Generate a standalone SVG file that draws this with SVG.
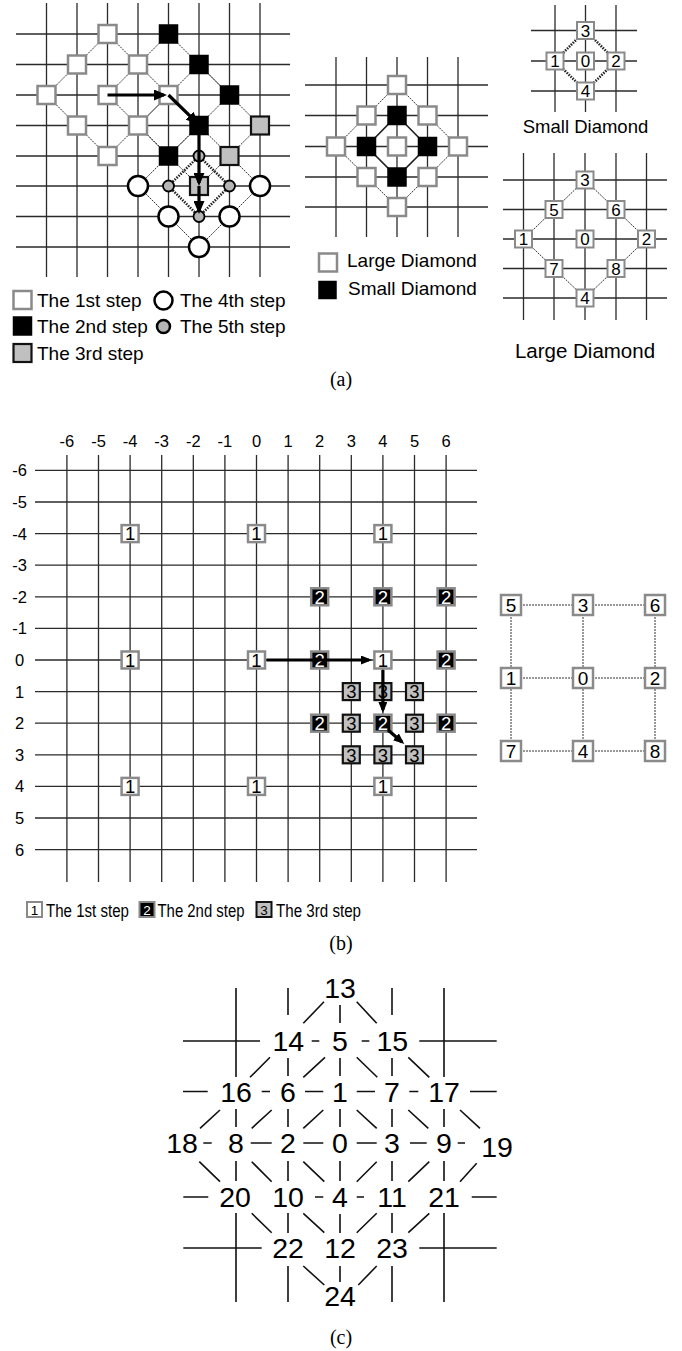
<svg xmlns="http://www.w3.org/2000/svg" width="682" height="1351" viewBox="0 0 682 1351">
<style>
.gl{stroke:#2b2b2b;stroke-width:1.3;fill:none}
.dt{stroke:#333;stroke-width:1;stroke-dasharray:2 1;fill:none}
.dk{stroke:#222;stroke-width:2.6;stroke-dasharray:1.5 1.2;fill:none}
.sd{stroke:#222;stroke-width:1.6;fill:none}
.s1{fill:#fff;stroke:#8a8a8a;stroke-width:2.5}
.s2{fill:#000;stroke:#000;stroke-width:1.5}
.s2b{fill:#000;stroke:#8a8a8a;stroke-width:2.5}
.s3{fill:#c0c0c0;stroke:#111;stroke-width:2.2}
.c4{fill:#fff;stroke:#000;stroke-width:2.5}
.c5{fill:#b5b5b5;stroke:#000;stroke-width:1.8}
.ar{stroke:#000;stroke-width:3.2;fill:none}
.cl{stroke:#111;stroke-width:1.6;fill:none}
text{font-family:"Liberation Sans",Arial,sans-serif;fill:#000}
.cap{font-family:"Liberation Serif","Times New Roman",serif;font-size:20px;text-anchor:middle}
.n{font-size:17px;text-anchor:middle}
.nb{font-size:18.5px;text-anchor:middle}
.nw{font-size:18.5px;text-anchor:middle;fill:#fff}
.nr{font-size:19px;text-anchor:middle}
.lg{font-size:19px}
.lb{font-size:16.5px;text-anchor:middle}
.cn{font-size:28.5px;text-anchor:middle}
.ls{font-size:13.5px;text-anchor:middle}
</style>
<defs>
<marker id="ahA" viewBox="0 0 13 11" refX="10" refY="5.5" markerWidth="13" markerHeight="11" markerUnits="userSpaceOnUse" orient="auto"><path d="M0,0 L13,5.5 L0,11 z" fill="#000"/></marker>
<marker id="ahB" viewBox="0 0 11 9" refX="8" refY="4.5" markerWidth="11" markerHeight="9" markerUnits="userSpaceOnUse" orient="auto"><path d="M0,0 L11,4.5 L0,9 z" fill="#000"/></marker>
</defs>
<rect width="682" height="1351" fill="#fff"/>

<!-- ===== (a) left grid ===== -->
<g id="a-grid" class="gl">
<path d="M16,34H290M16,64.5H290M16,95H290M16,125.5H290M16,156H290M16,186H290M16,216.5H290M16,247H290"/>
<path d="M46.5,3V277M77,3V277M107.5,3V277M138,3V277M168.5,3V277M199,3V277M229.5,3V277M260,3V277"/>
</g>
<g id="a-connectors">
<path class="dt" d="M107.5,34 L168.5,95 L107.5,156 L46.5,95 Z"/>
<path class="dt" d="M168.5,34 L229.5,95 L168.5,156 L107.5,95 Z"/>
<path class="dt" d="M199,64.5 L260,125.5 L199,186 L138,125.5 Z"/>
<path class="dt" d="M199,125.5 L260,186 L199,247 L138,186 Z"/>
<path class="dk" d="M199,156 L229.5,186 L199,216.5 L168.5,186 Z"/>
</g>
<g id="a-step1">
<rect class="s1" x="98.5" y="25" width="18" height="18"/>
<rect class="s1" x="68" y="55.5" width="18" height="18"/>
<rect class="s1" x="129" y="55.5" width="18" height="18"/>
<rect class="s1" x="37.5" y="86" width="18" height="18"/>
<rect class="s1" x="98.5" y="86" width="18" height="18"/>
<rect class="s1" x="159.5" y="86" width="18" height="18"/>
<rect class="s1" x="68" y="116.5" width="18" height="18"/>
<rect class="s1" x="129" y="116.5" width="18" height="18"/>
<rect class="s1" x="98.5" y="147" width="18" height="18"/>
</g>
<g id="a-step2">
<rect class="s2" x="159.5" y="25" width="18" height="18"/>
<rect class="s2" x="190" y="55.5" width="18" height="18"/>
<rect class="s2" x="220.5" y="86" width="18" height="18"/>
<rect class="s2" x="190" y="116.5" width="18" height="18"/>
<rect class="s2" x="159.5" y="147" width="18" height="18"/>
</g>
<g id="a-step3">
<rect class="s3" x="251" y="116.5" width="18" height="18"/>
<rect class="s3" x="220.5" y="147" width="18" height="18"/>
<rect class="s3" x="190" y="177" width="18" height="18"/>
</g>
<g id="a-step4">
<circle class="c4" cx="138" cy="186" r="10"/>
<circle class="c4" cx="260" cy="186" r="10"/>
<circle class="c4" cx="168.5" cy="216.5" r="10"/>
<circle class="c4" cx="229.5" cy="216.5" r="10"/>
<circle class="c4" cx="199" cy="247" r="10"/>
</g>
<g id="a-step5">
<circle class="c5" cx="199" cy="156" r="5.5"/>
<circle class="c5" cx="168.5" cy="186" r="5.5"/>
<circle class="c5" cx="229.5" cy="186" r="5.5"/>
<circle class="c5" cx="199" cy="216.5" r="5.5"/>
</g>
<g id="a-arrows" class="ar">
<path d="M107.5,95 L164,95" marker-end="url(#ahA)"/>
<path d="M168.5,95 L196.8,122.6" marker-end="url(#ahA)"/>
<path d="M199,125.5 L199,183" marker-end="url(#ahA)"/>
<path d="M199,186 L199,211" marker-end="url(#ahA)"/>
</g>
<g id="a-legend">
<rect class="s1" x="13.5" y="291" width="18" height="18"/>
<text class="lg" x="37" y="307">The 1st step</text>
<circle class="c4" cx="163.5" cy="300.5" r="9"/>
<text class="lg" x="180" y="307">The 4th step</text>
<rect class="s2" x="13.5" y="317" width="18" height="18"/>
<text class="lg" x="37" y="333">The 2nd step</text>
<circle class="c5" cx="163.5" cy="326.5" r="6.5" style="stroke-width:2.5"/>
<text class="lg" x="180" y="333">The 5th step</text>
<rect class="s3" x="13.5" y="344" width="18" height="18"/>
<text class="lg" x="37" y="360">The 3rd step</text>
</g>

<!-- ===== (a) middle grid ===== -->
<g id="m-grid" class="gl">
<path d="M305,85H488M305,115.5H488M305,146.5H488M305,177H488M305,207H488"/>
<path d="M336,57V237M366.5,57V237M397,57V237M427.5,57V237M458,57V237"/>
</g>
<g id="m-connectors">
<path class="dt" d="M397,85 L458,146.5 L397,207 L336,146.5 Z"/>
<path class="sd" d="M397,115.5 L427.5,146.5 L397,177 L366.5,146.5 Z"/>
</g>
<g id="m-large">
<rect class="s1" x="388" y="76" width="18" height="18"/>
<rect class="s1" x="357.5" y="106.5" width="18" height="18"/>
<rect class="s1" x="418.5" y="106.5" width="18" height="18"/>
<rect class="s1" x="327" y="137.5" width="18" height="18"/>
<rect class="s1" x="388" y="137.5" width="18" height="18"/>
<rect class="s1" x="449" y="137.5" width="18" height="18"/>
<rect class="s1" x="357.5" y="168" width="18" height="18"/>
<rect class="s1" x="418.5" y="168" width="18" height="18"/>
<rect class="s1" x="388" y="198" width="18" height="18"/>
</g>
<g id="m-small">
<rect class="s2" x="388" y="106.5" width="18" height="18"/>
<rect class="s2" x="357.5" y="137.5" width="18" height="18"/>
<rect class="s2" x="418.5" y="137.5" width="18" height="18"/>
<rect class="s2" x="388" y="168" width="18" height="18"/>
</g>
<g id="m-legend">
<rect class="s1" x="319" y="253.5" width="18" height="18"/>
<text class="lg" x="347" y="267">Large Diamond</text>
<rect class="s2" x="319" y="281.5" width="17" height="17"/>
<text class="lg" x="348" y="295">Small Diamond</text>
</g>

<!-- ===== (a) right: small diamond ===== -->
<g id="sd-grid" class="gl">
<path d="M531,30.5H637M531,61H637M531,91H637"/>
<path d="M555,5V112M585.5,5V112M616,5V112"/>
</g>
<g id="sd-connectors"><path class="dk" d="M585.5,30.5 L616,61 L585.5,91 L555,61 Z"/></g>
<g id="sd-3"><rect class="s1" x="577" y="22" width="17" height="17" style="stroke-width:2"/><text class="n" x="585.5" y="36.5">3</text></g>
<g id="sd-1"><rect class="s1" x="546.5" y="52.5" width="17" height="17" style="stroke-width:2"/><text class="n" x="555" y="67">1</text></g>
<g id="sd-0"><rect class="s1" x="577" y="52.5" width="17" height="17" style="stroke-width:2"/><text class="n" x="585.5" y="67">0</text></g>
<g id="sd-2"><rect class="s1" x="607.5" y="52.5" width="17" height="17" style="stroke-width:2"/><text class="n" x="616" y="67">2</text></g>
<g id="sd-4"><rect class="s1" x="577" y="82.5" width="17" height="17" style="stroke-width:2"/><text class="n" x="585.5" y="97">4</text></g>
<text x="585.5" y="133" style="font-size:18.5px;text-anchor:middle">Small Diamond</text>

<!-- ===== (a) right: large diamond ===== -->
<g id="ld-grid" class="gl">
<path d="M503,180H667M503,209.5H667M503,239H667M503,268.5H667M503,298H667"/>
<path d="M523.5,153V320M554,153V320M585,153V320M616,153V320M646.5,153V320"/>
</g>
<g id="ld-connectors"><path class="dt" d="M585,180 L646.5,239 L585,298 L523.5,239 Z"/></g>
<g id="ld-3"><rect class="s1" x="576.5" y="171.5" width="17" height="17" style="stroke-width:2"/><text class="n" x="585" y="186">3</text></g>
<g id="ld-5"><rect class="s1" x="545.5" y="201" width="17" height="17" style="stroke-width:2"/><text class="n" x="554" y="215.5">5</text></g>
<g id="ld-6"><rect class="s1" x="607.5" y="201" width="17" height="17" style="stroke-width:2"/><text class="n" x="616" y="215.5">6</text></g>
<g id="ld-1"><rect class="s1" x="515" y="230.5" width="17" height="17" style="stroke-width:2"/><text class="n" x="523.5" y="245">1</text></g>
<g id="ld-0"><rect class="s1" x="576.5" y="230.5" width="17" height="17" style="stroke-width:2"/><text class="n" x="585" y="245">0</text></g>
<g id="ld-2"><rect class="s1" x="638" y="230.5" width="17" height="17" style="stroke-width:2"/><text class="n" x="646.5" y="245">2</text></g>
<g id="ld-7"><rect class="s1" x="545.5" y="260" width="17" height="17" style="stroke-width:2"/><text class="n" x="554" y="274.5">7</text></g>
<g id="ld-8"><rect class="s1" x="607.5" y="260" width="17" height="17" style="stroke-width:2"/><text class="n" x="616" y="274.5">8</text></g>
<g id="ld-4"><rect class="s1" x="576.5" y="289.5" width="17" height="17" style="stroke-width:2"/><text class="n" x="585" y="304">4</text></g>
<text x="585" y="358" style="font-size:20.5px;text-anchor:middle">Large Diamond</text>

<text class="cap" x="341" y="386">(a)</text>

<!-- ===== (b) ===== -->
<g id="b-grid" class="gl">
<path d="M35,470.4H477M35,502H477M35,533.6H477M35,565.2H477M35,596.8H477M35,628.4H477M35,660H477M35,691.6H477M35,723.2H477M35,754.8H477M35,786.4H477M35,818H477M35,849.6H477"/>
<path d="M66.9,455V882M98.5,455V882M130.1,455V882M161.7,455V882M193.3,455V882M224.9,455V882M256.5,455V882M288.1,455V882M319.7,455V882M351.3,455V882M382.9,455V882M414.5,455V882M446.1,455V882"/>
</g>
<g id="b-collabels">
<text class="lb" x="66.9" y="447">-6</text><text class="lb" x="98.5" y="447">-5</text><text class="lb" x="130.1" y="447">-4</text><text class="lb" x="161.7" y="447">-3</text><text class="lb" x="193.3" y="447">-2</text><text class="lb" x="224.9" y="447">-1</text><text class="lb" x="256.5" y="447">0</text><text class="lb" x="288.1" y="447">1</text><text class="lb" x="319.7" y="447">2</text><text class="lb" x="351.3" y="447">3</text><text class="lb" x="382.9" y="447">4</text><text class="lb" x="414.5" y="447">5</text><text class="lb" x="446.1" y="447">6</text>
</g>
<g id="b-rowlabels">
<text class="lb" x="19.5" y="476.4">-6</text><text class="lb" x="19.5" y="508">-5</text><text class="lb" x="19.5" y="539.6">-4</text><text class="lb" x="19.5" y="571.2">-3</text><text class="lb" x="19.5" y="602.8">-2</text><text class="lb" x="19.5" y="634.4">-1</text><text class="lb" x="19.5" y="666">0</text><text class="lb" x="19.5" y="697.6">1</text><text class="lb" x="19.5" y="729.2">2</text><text class="lb" x="19.5" y="760.8">3</text><text class="lb" x="19.5" y="792.4">4</text><text class="lb" x="19.5" y="824">5</text><text class="lb" x="19.5" y="855.6">6</text>
</g>
<g id="b-step1">
<g id="b1-a"><rect class="s1" x="121.6" y="525.1" width="17" height="17"/><text class="nb" x="130.1" y="540.3">1</text></g>
<g id="b1-b"><rect class="s1" x="248" y="525.1" width="17" height="17"/><text class="nb" x="256.5" y="540.3">1</text></g>
<g id="b1-c"><rect class="s1" x="374.4" y="525.1" width="17" height="17"/><text class="nb" x="382.9" y="540.3">1</text></g>
<g id="b1-d"><rect class="s1" x="121.6" y="651.5" width="17" height="17"/><text class="nb" x="130.1" y="666.7">1</text></g>
<g id="b1-e"><rect class="s1" x="248" y="651.5" width="17" height="17"/><text class="nb" x="256.5" y="666.7">1</text></g>
<g id="b1-f"><rect class="s1" x="374.4" y="651.5" width="17" height="17"/><text class="nb" x="382.9" y="666.7">1</text></g>
<g id="b1-g"><rect class="s1" x="121.6" y="777.9" width="17" height="17"/><text class="nb" x="130.1" y="793.1">1</text></g>
<g id="b1-h"><rect class="s1" x="248" y="777.9" width="17" height="17"/><text class="nb" x="256.5" y="793.1">1</text></g>
<g id="b1-i"><rect class="s1" x="374.4" y="777.9" width="17" height="17"/><text class="nb" x="382.9" y="793.1">1</text></g>
</g>
<g id="b-step2">
<g id="b2-a"><rect class="s2b" x="311.2" y="588.3" width="17" height="17"/><text class="nw" x="319.7" y="603.5">2</text></g>
<g id="b2-b"><rect class="s2b" x="374.4" y="588.3" width="17" height="17"/><text class="nw" x="382.9" y="603.5">2</text></g>
<g id="b2-c"><rect class="s2b" x="437.6" y="588.3" width="17" height="17"/><text class="nw" x="446.1" y="603.5">2</text></g>
<g id="b2-d"><rect class="s2b" x="311.2" y="651.5" width="17" height="17"/><text class="nw" x="319.7" y="666.7">2</text></g>
<g id="b2-e"><rect class="s2b" x="437.6" y="651.5" width="17" height="17"/><text class="nw" x="446.1" y="666.7">2</text></g>
<g id="b2-f"><rect class="s2b" x="311.2" y="714.7" width="17" height="17"/><text class="nw" x="319.7" y="729.9">2</text></g>
<g id="b2-g"><rect class="s2b" x="374.4" y="714.7" width="17" height="17"/><text class="nw" x="382.9" y="729.9">2</text></g>
<g id="b2-h"><rect class="s2b" x="437.6" y="714.7" width="17" height="17"/><text class="nw" x="446.1" y="729.9">2</text></g>
</g>
<g id="b-step3">
<g id="b3-a"><rect class="s3" x="342.8" y="683.1" width="17" height="17"/><text class="nb" x="351.3" y="698.3">3</text></g>
<g id="b3-b"><rect class="s3" x="374.4" y="683.1" width="17" height="17"/><text class="nb" x="382.9" y="698.3">3</text></g>
<g id="b3-c"><rect class="s3" x="406" y="683.1" width="17" height="17"/><text class="nb" x="414.5" y="698.3">3</text></g>
<g id="b3-d"><rect class="s3" x="342.8" y="714.7" width="17" height="17"/><text class="nb" x="351.3" y="729.9">3</text></g>
<g id="b3-e"><rect class="s3" x="406" y="714.7" width="17" height="17"/><text class="nb" x="414.5" y="729.9">3</text></g>
<g id="b3-f"><rect class="s3" x="342.8" y="746.3" width="17" height="17"/><text class="nb" x="351.3" y="761.5">3</text></g>
<g id="b3-g"><rect class="s3" x="374.4" y="746.3" width="17" height="17"/><text class="nb" x="382.9" y="761.5">3</text></g>
<g id="b3-h"><rect class="s3" x="406" y="746.3" width="17" height="17"/><text class="nb" x="414.5" y="761.5">3</text></g>
</g>
<g id="b-arrows" class="ar">
<path d="M266.5,660 L369,660" marker-end="url(#ahB)"/>
<path d="M382.9,670 L382.9,710" marker-end="url(#ahB)"/>
<path d="M388,730 L402,742" marker-end="url(#ahB)"/>
</g>

<!-- (b) right square pattern -->
<g id="bs-connectors" class="dt">
<path d="M511,605H655M511,678H655M511,751H655M511,605V751M583,605V751M655,605V751"/>
</g>
<g id="bs-5"><rect class="s1" x="501" y="595" width="20" height="20"/><text class="nr" x="511" y="612">5</text></g>
<g id="bs-3"><rect class="s1" x="573" y="595" width="20" height="20"/><text class="nr" x="583" y="612">3</text></g>
<g id="bs-6"><rect class="s1" x="645" y="595" width="20" height="20"/><text class="nr" x="655" y="612">6</text></g>
<g id="bs-1"><rect class="s1" x="501" y="668" width="20" height="20"/><text class="nr" x="511" y="685">1</text></g>
<g id="bs-0"><rect class="s1" x="573" y="668" width="20" height="20"/><text class="nr" x="583" y="685">0</text></g>
<g id="bs-2"><rect class="s1" x="645" y="668" width="20" height="20"/><text class="nr" x="655" y="685">2</text></g>
<g id="bs-7"><rect class="s1" x="501" y="741" width="20" height="20"/><text class="nr" x="511" y="758">7</text></g>
<g id="bs-4"><rect class="s1" x="573" y="741" width="20" height="20"/><text class="nr" x="583" y="758">4</text></g>
<g id="bs-8"><rect class="s1" x="645" y="741" width="20" height="20"/><text class="nr" x="655" y="758">8</text></g>

<g id="b-legend">
<rect class="s1" x="27" y="902" width="15" height="15" style="stroke-width:2"/><text class="ls" x="34.5" y="914.5">1</text>
<text x="46" y="916.5" style="font-size:18px" textLength="83" lengthAdjust="spacingAndGlyphs">The 1st step</text>
<rect class="s2b" x="139.5" y="902" width="15" height="15" style="stroke-width:2"/><text class="ls" x="147" y="914.5" style="fill:#fff">2</text>
<text x="157.5" y="916.5" style="font-size:18px" textLength="87" lengthAdjust="spacingAndGlyphs">The 2nd step</text>
<rect class="s3" x="256.5" y="902" width="15" height="15" style="stroke-width:2"/><text class="ls" x="264" y="914.5">3</text>
<text x="276" y="916.5" style="font-size:18px" textLength="85" lengthAdjust="spacingAndGlyphs">The 3rd step</text>
</g>
<text class="cap" x="341" y="950">(b)</text>

<!-- ===== (c) ===== -->
<g id="c-connectors" class="cl">
<path d="M183,1041H260M311.7,1041H319.3M361.7,1041H369.3M419.3,1041H496.7"/>
<path d="M183,1091.5H207.7M261.7,1091.5H270M305,1091.5H323.3M356.7,1091.5H375M409.3,1091.5H418.3M470,1091.5H496.7"/>
<path d="M203.3,1143H211.7M250.7,1143H271.7M303.3,1143H323.3M356.7,1143H376.7M410,1143H426.7M457.7,1143H465"/>
<path d="M183.3,1197H208.3M315,1197H323.3M356.7,1197H364M471.7,1197H496.7"/>
<path d="M183.3,1248H261.7M419.3,1248H496.7"/>
<path d="M236,988V1077M236,1109V1127M236,1161V1181M236,1213V1302"/>
<path d="M288,988V1015M288,1058V1076M288,1109V1127M288,1161V1181M288,1213V1233M288,1266V1302"/>
<path d="M340,1005V1023M340,1058V1076M340,1109V1127M340,1161V1181M340,1214V1233M340,1266V1282"/>
<path d="M392,988V1015M392,1058V1076M392,1109V1127M392,1161V1181M392,1213V1233M392,1266V1302"/>
<path d="M444,988V1077M444,1109V1127M444,1161V1181M444,1213V1302"/>
<path d="M324,1001.7L303.3,1023.3M356.7,1001.7L376.7,1023.3"/>
<path d="M270,1057.3L250,1077.3M325,1057.3L303.3,1077.3M356.7,1057.3L377.3,1077.3M408.3,1057.3L429.3,1077.3"/>
<path d="M220,1110L200,1128.3M271.7,1110L251.7,1128.3M323.3,1110L303.3,1128.3M356.7,1110L376.7,1128.3M408.3,1110L428.3,1128.3M460,1110L480,1128.3"/>
<path d="M199.3,1161.7L220,1181.7M251.7,1161.7L271.7,1181.7M303.3,1161.7L324.3,1181.7M376.7,1161.7L356.7,1181.7M429.3,1161.7L408.3,1181.7M476.7,1163.3L460,1181.7"/>
<path d="M251.7,1213.3L271.7,1232.7M303.3,1213.3L324.3,1232.7M376.7,1213.3L356.7,1232.7M429.3,1213.3L408.3,1232.7"/>
<path d="M303.3,1266L324.3,1285M376.7,1266L358.3,1285"/>
</g>
<g id="c-nodes">
<text id="c13" class="cn" x="340" y="998">13</text>
<text id="c14" class="cn" x="288.3" y="1051">14</text>
<text id="c5" class="cn" x="340" y="1051">5</text>
<text id="c15" class="cn" x="392.3" y="1051">15</text>
<text id="c16" class="cn" x="236" y="1102">16</text>
<text id="c6" class="cn" x="288" y="1102">6</text>
<text id="c1" class="cn" x="340" y="1102">1</text>
<text id="c7" class="cn" x="392" y="1102">7</text>
<text id="c17" class="cn" x="444" y="1102">17</text>
<text id="c18" class="cn" x="182" y="1153">18</text>
<text id="c8" class="cn" x="236" y="1153">8</text>
<text id="c2" class="cn" x="288" y="1153">2</text>
<text id="c0" class="cn" x="340" y="1153">0</text>
<text id="c3" class="cn" x="392" y="1153">3</text>
<text id="c9" class="cn" x="444" y="1153">9</text>
<text id="c19" class="cn" x="497" y="1157">19</text>
<text id="c20" class="cn" x="235" y="1207">20</text>
<text id="c10" class="cn" x="288" y="1207">10</text>
<text id="c4" class="cn" x="340" y="1207">4</text>
<text id="c11" class="cn" x="392" y="1207">11</text>
<text id="c21" class="cn" x="444" y="1207">21</text>
<text id="c22" class="cn" x="288" y="1258">22</text>
<text id="c12" class="cn" x="340" y="1258">12</text>
<text id="c23" class="cn" x="392" y="1258">23</text>
<text id="c24" class="cn" x="340" y="1306">24</text>
</g>
<text class="cap" x="341" y="1344">(c)</text>
</svg>
